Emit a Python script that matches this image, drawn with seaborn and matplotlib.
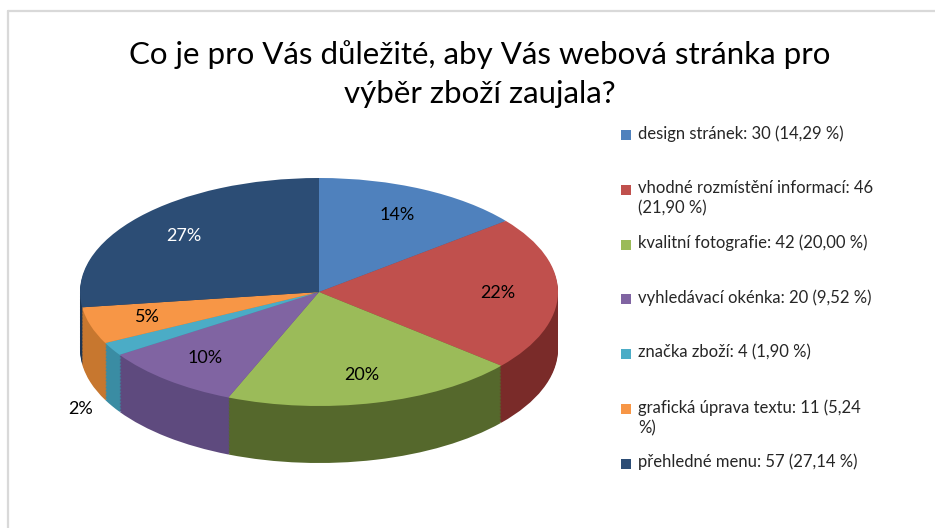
import numpy as np
import matplotlib
matplotlib.use("Agg")
import matplotlib.pyplot as plt
import seaborn as sns
from matplotlib.lines import Line2D
from matplotlib.patches import Rectangle

# ======================================================
# Data
# ======================================================

categories = ["design stránek", "vhodné rozmístění informací", "kvalitní fotografie",
              "vyhledávací okénka", "značka zboží", "grafická úprava textu", "přehledné menu"]
counts = [30, 46, 42, 20, 4, 11, 57]
legend_labels = [
    "design stránek: 30 (14,29 %)",
    "vhodné rozmístění informací: 46\n(21,90 %)",
    "kvalitní fotografie: 42 (20,00 %)",
    "vyhledávací okénka: 20 (9,52 %)",
    "značka zboží: 4 (1,90 %)",
    "grafická úprava textu: 11 (5,24\n%)",
    "přehledné menu: 57 (27,14 %)",
]
title = "Co je pro Vás důležité, aby Vás webová stránka pro\nvýběr zboží zaujala?"

top_colors = ["#4F81BD", "#C0504D", "#9BBB59", "#8064A2", "#4BACC6", "#F79646", "#2C4D75"]
side_colors = ["#3A6090", "#7A2B29", "#55682C", "#5E4A7E", "#3A8CA3", "#C7772F", "#1E3654"]

# ======================================================
# Style
# ======================================================

sns.set_style("white")
plt.rcParams["font.family"] = ["Lato", "DejaVu Sans"]

W, H = 935, 528
fig = plt.figure(figsize=(W / 100, H / 100), dpi=100)

# pie geometry in pixels: centre, half-axes; depth in y units
cx, cy, a, b = 319, 292, 239, 114
depth = 0.5

xl, xr = -1.2, 1.2
yb, yt = -1.9, 1.3
left_px = cx + xl * a
ax = fig.add_axes([left_px / W, (H - (cy - yb * b)) / H, (xr - xl) * a / W, (yt - yb) * b / H])

# side of the 3D pie: stacked darker pies
n_layers = 40
for k in range(n_layers, 0, -1):
    ax.pie(counts, colors=side_colors, startangle=90, counterclock=False,
           center=(0, -depth * k / n_layers), radius=1,
           wedgeprops=dict(linewidth=0, edgecolor="none"))

# top face
wedges, texts, autotexts = ax.pie(
    counts, colors=top_colors, startangle=90, counterclock=False,
    autopct="%1.0f%%", pctdistance=0.75, radius=1,
    wedgeprops=dict(linewidth=0, edgecolor="none"),
    textprops=dict(fontsize=13, color="black"))

autotexts[-1].set_color("white")

# tiny slice label goes outside, below the rim
small = int(np.argmin(counts))
w = wedges[small]
mid = np.deg2rad((w.theta1 + w.theta2) / 2)
autotexts[small].set_position((1.15 * np.cos(mid), 1.15 * np.sin(mid) - depth * 0.9))

ax.set_xlim(xl, xr)
ax.set_ylim(yb, yt)
ax.set_aspect("auto")
ax.axis("off")

# ======================================================
# Title
# ======================================================

fig.text(480 / W, 1 - 74 / H, title, ha="center", va="center", fontsize=22.5,
         linespacing=1.5, color="black")

# ======================================================
# Legend
# ======================================================

for i, lab in enumerate(legend_labels):
    y = 135 + i * 54.8
    fig.patches.append(Rectangle((621 / W, 1 - (y + 5) / H), 10 / W, 10 / H,
                                 transform=fig.transFigure, facecolor=top_colors[i],
                                 edgecolor="none"))
    fig.text(638 / W, 1 - (y - 10) / H, lab, ha="left", va="top", fontsize=12,
             linespacing=1.35)

# chart frame
fig.add_artist(Line2D([8 / W, 8 / W], [0, 1 - 11 / H], color="#d9d9d9", lw=1.6))
fig.add_artist(Line2D([8 / W, 1], [1 - 11 / H, 1 - 11 / H], color="#d9d9d9", lw=1.6))

fig.savefig("out.png", dpi=100, facecolor="white")
